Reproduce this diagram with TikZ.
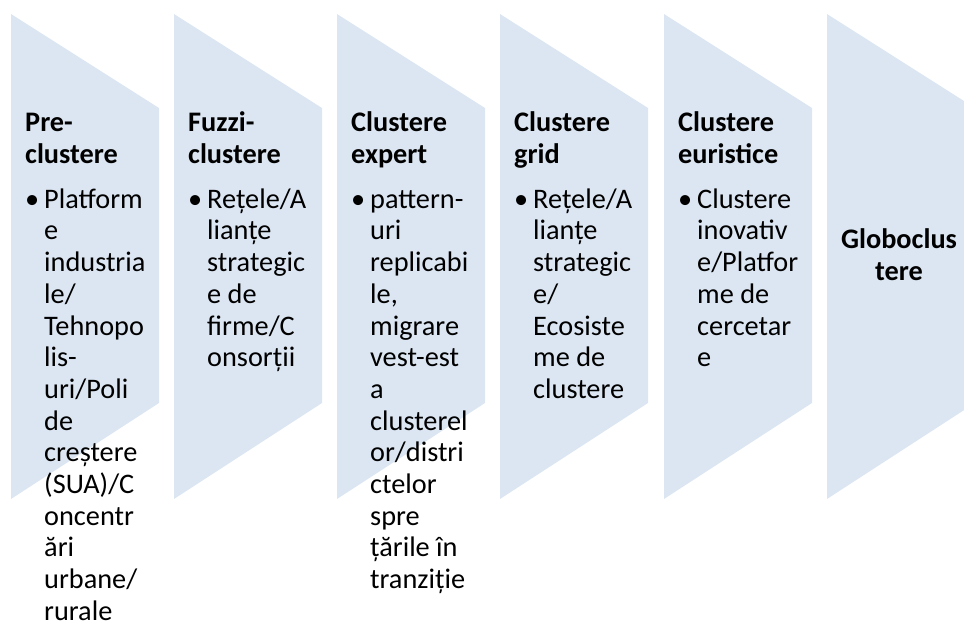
\documentclass[tikz,border=0pt]{standalone}
\usepackage{fontspec}
\setmainfont{Carlito}
\definecolor{chevfill}{HTML}{DCE6F2}
\newcommand{\firstline}{\rule{0pt}{22pt}}
\begin{document}
\begin{tikzpicture}[x=1pt,y=-1pt]
		\tikzset{chev/.style = {fill=chevfill, draw=none}}
		\tikzset{title/.style = {anchor=north west, inner sep=0pt, align=left, font=\bfseries\fontsize{28.3}{32}\selectfont}}
		\tikzset{body/.style = {anchor=north west, inner sep=0pt, align=left, font=\fontsize{28.3}{31.7}\selectfont}}
		\useasboundingbox (0,0) rectangle (964,624);
		% Draw chevrons
		\foreach \x in {11,174,337,500,664,827}
			\fill[chev] (\x,14) -- ++(148,94) -- ++(0,295) -- ++(-148,96) -- cycle;
		% Titles (first baseline at 131)
		\node[title] (t1) at (25,109) {\firstline Pre-\\clustere};
		\node[title] (t2) at (188,109) {\firstline Fuzzi-\\clustere};
		\node[title] (t3) at (351,109) {\firstline Clustere\\expert};
		\node[title] (t4) at (514,109) {\firstline Clustere\\grid};
		\node[title] (t5) at (678,109) {\firstline Clustere\\euristice};
		\node[title, anchor=north, align=center] (t6) at (899,226) {\firstline Globoclus\\tere};
		% Bullets (first baseline at 208)
		\foreach \x [count=\i] in {25,188,351,514,678}
			\node[body] (d\i) at (\x,186) {\firstline •};
		% Bullet texts
		\node[body] (b1) at (44,186) {\firstline Platform\\e\\industria\\le/\\Tehnopo\\lis-\\uri/Poli\\de\\creștere\\(SUA)/C\\oncentr\\ări\\urbane/\\rurale};
		\node[body] (b2) at (207,186) {\firstline Rețele/A\\lianțe\\strategic\\e de\\firme/C\\onsorții};
		\node[body] (b3) at (370,186) {\firstline pattern-\\uri\\replicabi\\le,\\migrare\\vest-est\\a\\clusterel\\or/distri\\ctelor\\spre\\țările în\\tranziție};
		\node[body] (b4) at (533,186) {\firstline Rețele/A\\lianțe\\strategic\\e/\\Ecosiste\\me de\\clustere};
		\node[body] (b5) at (697,186) {\firstline Clustere\\inovativ\\e/Platfor\\me de\\cercetar\\e};
	\end{tikzpicture}
\end{document}
